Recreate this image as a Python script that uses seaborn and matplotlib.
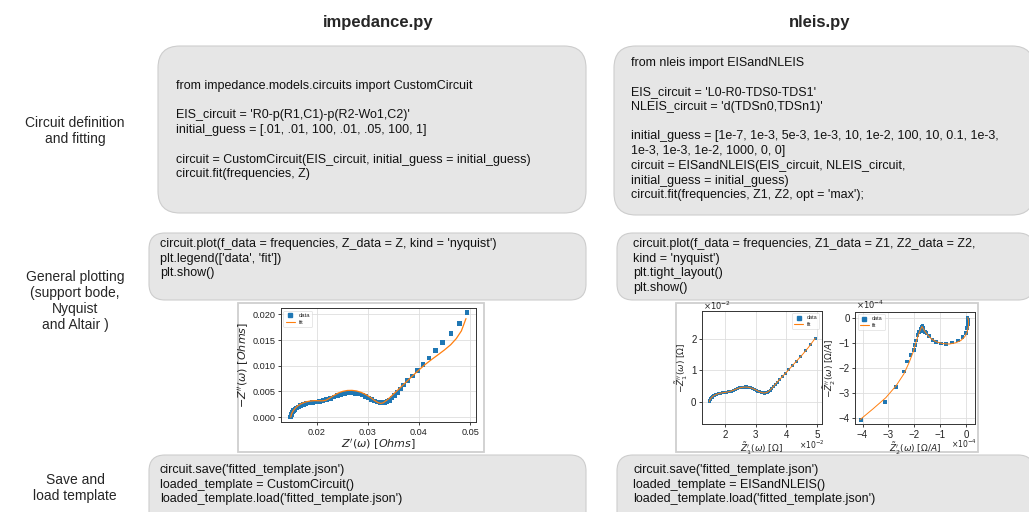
import matplotlib
matplotlib.use("Agg")
import matplotlib.pyplot as plt
from matplotlib.patches import FancyBboxPatch, Rectangle
from matplotlib.lines import Line2D
from matplotlib.ticker import MultipleLocator, FuncFormatter
import seaborn as sns

# ---------------- data ----------------
# impedance.py EIS data: Z' and -Z'' in Ohms
eis_re = [0.01490, 0.01495, 0.01505, 0.01515, 0.01530, 0.01550, 0.01575, 0.01605,
          0.01640, 0.01685, 0.01735, 0.01790, 0.01850, 0.01915, 0.01985, 0.02055,
          0.02125, 0.02195, 0.02265, 0.02335, 0.02405, 0.02475, 0.02545, 0.02615,
          0.02685, 0.02755, 0.02825, 0.02890, 0.02955, 0.03015, 0.03075, 0.03130,
          0.03185, 0.03235, 0.03285, 0.03330, 0.03375, 0.03420, 0.03470, 0.03520,
          0.03575, 0.03635, 0.03700, 0.03780, 0.03870, 0.03970, 0.04080, 0.04195,
          0.04325, 0.04465, 0.04630, 0.04790, 0.04940]
eis_im = [0.00000, 0.00025, 0.00050, 0.00075, 0.00100, 0.00125, 0.00150, 0.00175,
          0.00200, 0.00222, 0.00245, 0.00262, 0.00275, 0.00285, 0.00295, 0.00307,
          0.00322, 0.00340, 0.00365, 0.00395, 0.00420, 0.00443, 0.00460, 0.00470,
          0.00472, 0.00465, 0.00450, 0.00428, 0.00400, 0.00370, 0.00340, 0.00314,
          0.00294, 0.00282, 0.00278, 0.00283, 0.00300, 0.00328, 0.00370, 0.00420,
          0.00480, 0.00550, 0.00625, 0.00710, 0.00805, 0.00910, 0.01030, 0.01155,
          0.01295, 0.01450, 0.01630, 0.01820, 0.02035]

# impedance.py fit
eis_fit_re = [0.01490, 0.01505, 0.01530, 0.01570, 0.01620, 0.01690, 0.01770, 0.01860,
              0.01950, 0.02040, 0.02120, 0.02180, 0.02250, 0.02330, 0.02420, 0.02510,
              0.02600, 0.02690, 0.02780, 0.02870, 0.02960, 0.03050, 0.03130, 0.03200,
              0.03250, 0.03300, 0.03370, 0.03450, 0.03550, 0.03650, 0.03760, 0.03880,
              0.04000, 0.04120, 0.04250, 0.04380, 0.04500, 0.04620, 0.04730, 0.04830,
              0.04920]
eis_fit_im = [0.00000, 0.00060, 0.00110, 0.00165, 0.00215, 0.00260, 0.00293, 0.00313,
              0.00322, 0.00320, 0.00318, 0.00330, 0.00370, 0.00420, 0.00470, 0.00503,
              0.00520, 0.00522, 0.00510, 0.00482, 0.00440, 0.00385, 0.00325, 0.00282,
              0.00268, 0.00280, 0.00330, 0.00400, 0.00495, 0.00590, 0.00695, 0.00810,
              0.00920, 0.01025, 0.01125, 0.01220, 0.01310, 0.01410, 0.01530, 0.01680,
              0.01920]

# nleis.py Z1 fit
z1_fit_re = [0.01490, 0.01500, 0.01520, 0.01555, 0.01610, 0.01690, 0.01790, 0.01900,
             0.02020, 0.02140, 0.02260, 0.02380, 0.02500, 0.02620, 0.02740, 0.02860,
             0.02970, 0.03080, 0.03180, 0.03280, 0.03370, 0.03460, 0.03560, 0.03680,
             0.03820, 0.03980, 0.04150, 0.04330, 0.04520, 0.04720, 0.04940]
z1_fit_im = [0.00000, 0.00040, 0.00085, 0.00130, 0.00180, 0.00225, 0.00262, 0.00285,
             0.00302, 0.00325, 0.00365, 0.00412, 0.00452, 0.00470, 0.00467, 0.00440,
             0.00395, 0.00340, 0.00296, 0.00280, 0.00300, 0.00365, 0.00465, 0.00605,
             0.00755, 0.00920, 0.01105, 0.01300, 0.01505, 0.01740, 0.02030]

# nleis.py Z2 data (Ohm/A)
z2_re = [-4.05e-4, -3.14e-4, -2.70e-4, -2.39e-4, -2.28e-4, -2.15e-4, -2.00e-4, -1.97e-4,
         -1.94e-4, -1.87e-4, -1.81e-4, -1.76e-4, -1.72e-4, -1.68e-4, -1.66e-4, -1.67e-4,
         -1.59e-4, -1.52e-4, -1.43e-4, -1.30e-4, -1.15e-4, -0.96e-4, -0.77e-4, -0.53e-4,
         -0.32e-4, -0.13e-4, -0.01e-4, 0.05e-4, 0.09e-4, 0.09e-4, 0.06e-4]
z2_im = [-4.08e-4, -3.36e-4, -2.76e-4, -2.16e-4, -1.76e-4, -1.50e-4, -1.29e-4, -1.09e-4,
         -0.92e-4, -0.70e-4, -0.57e-4, -0.47e-4, -0.37e-4, -0.34e-4, -0.43e-4, -0.53e-4,
         -0.58e-4, -0.63e-4, -0.74e-4, -0.89e-4, -0.99e-4, -1.04e-4, -1.07e-4, -1.00e-4,
         -0.92e-4, -0.78e-4, -0.63e-4, -0.43e-4, -0.26e-4, -0.11e-4, 0.00e-4]

# nleis.py Z2 fit
z2_fit_re = [-4.10e-4, -3.60e-4, -3.10e-4, -2.70e-4, -2.40e-4, -2.20e-4, -2.05e-4, -1.95e-4,
             -1.85e-4, -1.76e-4, -1.70e-4, -1.62e-4, -1.50e-4, -1.35e-4, -1.15e-4, -0.90e-4,
             -0.65e-4, -0.40e-4, -0.20e-4, -0.05e-4, 0.05e-4, 0.10e-4, 0.10e-4, 0.07e-4]
z2_fit_im = [-4.08e-4, -3.65e-4, -3.20e-4, -2.72e-4, -2.25e-4, -1.80e-4, -1.40e-4, -1.05e-4,
             -0.72e-4, -0.48e-4, -0.36e-4, -0.50e-4, -0.68e-4, -0.84e-4, -0.97e-4, -1.04e-4,
             -1.06e-4, -1.01e-4, -0.92e-4, -0.77e-4, -0.57e-4, -0.33e-4, -0.12e-4, 0.00e-4]

# ---------------- text ----------------
col_titles = ["impedance.py", "nleis.py"]
row_labels = ["Circuit definition\nand fitting",
              "General plotting\n(support bode,\nNyquist\nand Altair )",
              "Save and\nload template"]

code_imp_fit = ["from impedance.models.circuits import CustomCircuit", "",
                "EIS_circuit = 'R0-p(R1,C1)-p(R2-Wo1,C2)'",
                "initial_guess = [.01, .01, 100, .01, .05, 100, 1]", "",
                "circuit = CustomCircuit(EIS_circuit, initial_guess = initial_guess)",
                "circuit.fit(frequencies, Z)"]
code_nl_fit = ["from nleis import EISandNLEIS", "",
               "EIS_circuit = 'L0-R0-TDS0-TDS1'",
               "NLEIS_circuit = 'd(TDSn0,TDSn1)'", "",
               "initial_guess = [1e-7, 1e-3, 5e-3, 1e-3, 10, 1e-2, 100, 10, 0.1, 1e-3,",
               "1e-3, 1e-3, 1e-2, 1000, 0, 0]",
               "circuit = EISandNLEIS(EIS_circuit, NLEIS_circuit,",
               "initial_guess = initial_guess)",
               "circuit.fit(frequencies, Z1, Z2, opt = 'max');"]
code_imp_plot = ["circuit.plot(f_data = frequencies, Z_data = Z, kind = 'nyquist')",
                 "plt.legend(['data', 'fit'])",
                 "plt.show()"]
code_nl_plot = ["circuit.plot(f_data = frequencies, Z1_data = Z1, Z2_data = Z2,",
                "kind = 'nyquist')",
                "plt.tight_layout()",
                "plt.show()"]
code_imp_save = ["circuit.save('fitted_template.json')",
                 "loaded_template = CustomCircuit()",
                 "loaded_template.load('fitted_template.json')"]
code_nl_save = ["circuit.save('fitted_template.json')",
                "loaded_template = EISandNLEIS()",
                "loaded_template.load('fitted_template.json')"]

# ---------------- figure ----------------
sns.set_theme(style="whitegrid")
plt.rcParams['font.family'] = ['Liberation Sans', 'DejaVu Sans']
plt.rcParams['mathtext.fontset'] = 'dejavusans'

W, H = 1029, 512
fig = plt.figure(figsize=(W / 100, H / 100), dpi=100)
fig.patch.set_facecolor('white')

bg = fig.add_axes([0, 0, 1, 1])
bg.set_xlim(0, W)
bg.set_ylim(H, 0)
bg.axis('off')

BOX_FC = '#e6e6e6'
BOX_EC = '#cdcdcd'
CODE_FS = 9.0
LINE_H = 14.7


def rbox(x0, y0, x1, y1, r=22):
    p = FancyBboxPatch((x0, y0), x1 - x0, y1 - y0,
                       boxstyle=f"round,pad=0,rounding_size={r}",
                       fc=BOX_FC, ec=BOX_EC, lw=0.8)
    bg.add_patch(p)


def code(lines, x, y0):
    for i, ln in enumerate(lines):
        if ln:
            bg.text(x, y0 + i * LINE_H, ln, fontsize=CODE_FS, color='#111111',
                    ha='left', va='center')


# column titles
bg.text(378, 22, col_titles[0], fontsize=12, fontweight='bold', ha='center', va='center')
bg.text(820, 22, col_titles[1], fontsize=12, fontweight='bold', ha='center', va='center')

# row labels
bg.text(75, 131, row_labels[0], fontsize=10, ha='center', va='center', linespacing=1.25)
bg.text(75, 301, row_labels[1], fontsize=10, ha='center', va='center', linespacing=1.2)
bg.text(75, 488, row_labels[2], fontsize=10, ha='center', va='center', linespacing=1.25)

# code boxes
rbox(158, 46, 586, 213)
code(code_imp_fit, 176, 86)
rbox(614, 46, 1034, 215)
code(code_nl_fit, 631, 63)
rbox(149, 233, 586, 300, r=16)
code(code_imp_plot, 160, 244)
rbox(617, 233, 1034, 300, r=16)
code(code_nl_plot, 633, 244)
rbox(149, 455, 586, 540, r=16)
code(code_imp_save, 160, 470)
rbox(617, 455, 1034, 540, r=16)
code(code_nl_save, 633, 470)

# image frames around the plots
bg.add_patch(Rectangle((238, 303), 246, 149, fc='white', ec='#cfcfcf', lw=1.3))
bg.add_patch(Rectangle((676, 303), 302, 149, fc='white', ec='#cfcfcf', lw=1.3))


def px_ax(x0, y0, x1, y1):
    return fig.add_axes([x0 / W, 1 - y1 / H, (x1 - x0) / W, (y1 - y0) / H])


def style(ax, ts):
    ax.set_facecolor('white')
    ax.grid(True, color='#dedede', lw=0.6)
    for s in ax.spines.values():
        s.set_color('#333333')
        s.set_linewidth(0.7)
    ax.tick_params(labelsize=ts, length=2.5, width=0.6, pad=1.5,
                   colors='#222222', left=True, bottom=True)


BLUE = '#1f77b4'
ORANGE = '#ff7f0e'


def legend(ax, loc, ms, fs=4):
    h = [Line2D([], [], ls='none', marker='s', color=BLUE, ms=ms),
         Line2D([], [], color=ORANGE, lw=0.8)]
    lg = ax.legend(h, ['data', 'fit'], loc=loc, fontsize=fs, frameon=True,
                   handlelength=1.6, borderpad=0.4, labelspacing=0.3,
                   handletextpad=0.6, borderaxespad=0.4)
    lg.get_frame().set_linewidth(0.4)
    lg.get_frame().set_edgecolor('#cccccc')


def scaled(ax, scale):
    fmt = FuncFormatter(lambda v, p: f"{v / scale:.0f}".replace('-', '\u2212'))
    ax.xaxis.set_major_formatter(fmt)
    ax.yaxis.set_major_formatter(fmt)


# ---- impedance.py nyquist ----
ax1 = px_ax(281, 308.3, 475.7, 422.3)
style(ax1, 6.6)
sns.scatterplot(x=eis_re, y=eis_im, marker='s', s=11, color=BLUE, edgecolor='none',
                ax=ax1, zorder=3)
sns.lineplot(x=eis_fit_re, y=eis_fit_im, sort=False, estimator=None, color=ORANGE,
             lw=0.9, ax=ax1, zorder=4)
ax1.set_xlim(0.0130, 0.0511)
ax1.set_ylim(-0.0010, 0.0212)
ax1.xaxis.set_major_locator(MultipleLocator(0.01))
ax1.yaxis.set_major_locator(MultipleLocator(0.005))
ax1.set_xlabel(r"$Z'(\omega)\ [Ohms]$", fontsize=8, labelpad=0.5)
ax1.set_ylabel(r"$-Z''(\omega)\ [Ohms]$", fontsize=8, labelpad=1)
legend(ax1, 'upper left', 2.8, 4.2)

# ---- nleis.py Z1 ----
TS_R = 7
LS_R = 6.5
ax2 = px_ax(702, 311, 821.7, 424.3)
style(ax2, TS_R)
sns.scatterplot(x=eis_re, y=eis_im, marker='s', s=5, color=BLUE, edgecolor='none',
                ax=ax2, zorder=3)
sns.lineplot(x=z1_fit_re, y=z1_fit_im, sort=False, estimator=None, color=ORANGE,
             lw=0.7, ax=ax2, zorder=4)
ax2.set_xlim(0.0125, 0.0515)
ax2.set_ylim(-0.0072, 0.0290)
ax2.xaxis.set_major_locator(MultipleLocator(0.01))
ax2.yaxis.set_major_locator(MultipleLocator(0.01))
scaled(ax2, 1e-2)
ax2.set_xlabel(r"$\tilde{Z}_1'(\omega)$ $[\Omega]$", fontsize=LS_R, labelpad=0.5)
ax2.set_ylabel(r"$-\tilde{Z}_1''(\omega)$ $[\Omega]$", fontsize=LS_R, labelpad=0.5)
legend(ax2, 'upper right', 2.2)
bg.text(703, 306, r"$\times10^{-2}$", fontsize=6, ha='left', va='center', color='#222222')
bg.text(825, 445, r"$\times10^{-2}$", fontsize=5.5, ha='right', va='center', color='#222222')

# ---- nleis.py Z2 ----
ax3 = px_ax(855.3, 312, 975, 424)
style(ax3, TS_R)
sns.scatterplot(x=z2_re, y=z2_im, marker='s', s=7, color=BLUE, edgecolor='none',
                ax=ax3, zorder=3)
sns.lineplot(x=z2_fit_re, y=z2_fit_im, sort=False, estimator=None, color=ORANGE,
             lw=0.7, ax=ax3, zorder=4)
ax3.set_xlim(-4.28e-4, 0.35e-4)
ax3.set_ylim(-4.25e-4, 0.22e-4)
ax3.xaxis.set_major_locator(MultipleLocator(1e-4))
ax3.yaxis.set_major_locator(MultipleLocator(1e-4))
scaled(ax3, 1e-4)
ax3.set_xlabel(r"$\tilde{Z}_2'(\omega)$ $[\Omega/A]$", fontsize=LS_R, labelpad=0.5)
ax3.set_ylabel(r"$-\tilde{Z}_2''(\omega)$ $[\Omega/A]$", fontsize=LS_R, labelpad=0.5)
legend(ax3, 'upper left', 2.2)
bg.text(856, 305, r"$\times10^{-4}$", fontsize=6, ha='left', va='center', color='#222222')
bg.text(977, 444, r"$\times10^{-4}$", fontsize=5.5, ha='right', va='center', color='#222222')

fig.savefig("out.png", dpi=100, facecolor='white')
